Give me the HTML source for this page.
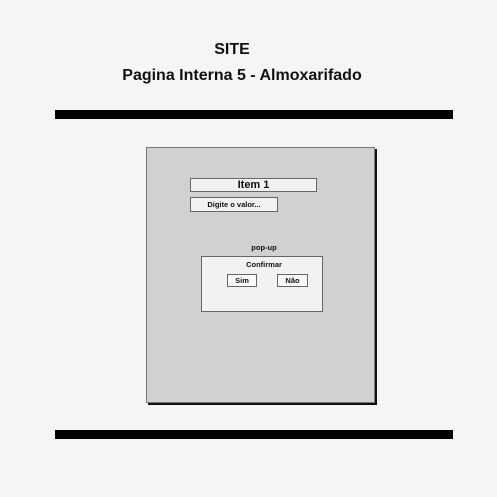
<!DOCTYPE html>
<html><head><style>
body{margin:0;width:497px;height:497px;background:#f5f5f5;position:relative;overflow:hidden;font-family:"Liberation Sans",sans-serif;color:#111}
.a{position:absolute;box-sizing:border-box}
.t{position:absolute;font-weight:bold;white-space:nowrap;transform:translateX(-50%)}
.b{border:1px solid #666;background:#f2f2f2;display:flex;align-items:center;justify-content:center;font-weight:bold}
</style></head><body>
<div class="t" style="left:232px;top:41px;font-size:16px">SITE</div>
<div class="t" style="left:242px;top:67px;font-size:16px">Pagina Interna 5 - Almoxarifado</div>
<div class="a" style="left:55px;top:110px;width:398px;height:9px;background:#000"></div>
<div class="a" style="left:55px;top:430px;width:398px;height:9px;background:#000"></div>
<div class="a" style="left:146px;top:147px;width:229px;height:256px;background:#d1d1d1;border:1px solid #777;box-shadow:2px 2px 0 #111"></div>
<div class="a b" style="left:190px;top:178px;width:127px;height:14px;font-size:11px">Item 1</div>
<div class="a b" style="left:190px;top:197px;width:88px;height:15px;font-size:7.5px">Digite o valor...</div>
<div class="t" style="left:264px;top:243px;font-size:7.5px">pop-up</div>
<div class="a" style="left:201px;top:256px;width:122px;height:56px;background:#f2f2f2;border:1px solid #666"></div>
<div class="t" style="left:264px;top:260px;font-size:7.5px">Confirmar</div>
<div class="a b" style="left:227px;top:274px;width:30px;height:13px;font-size:7.5px;background:#fafafa">Sim</div>
<div class="a b" style="left:277px;top:274px;width:31px;height:13px;font-size:7.5px;background:#fafafa">Não</div>
</body></html>
